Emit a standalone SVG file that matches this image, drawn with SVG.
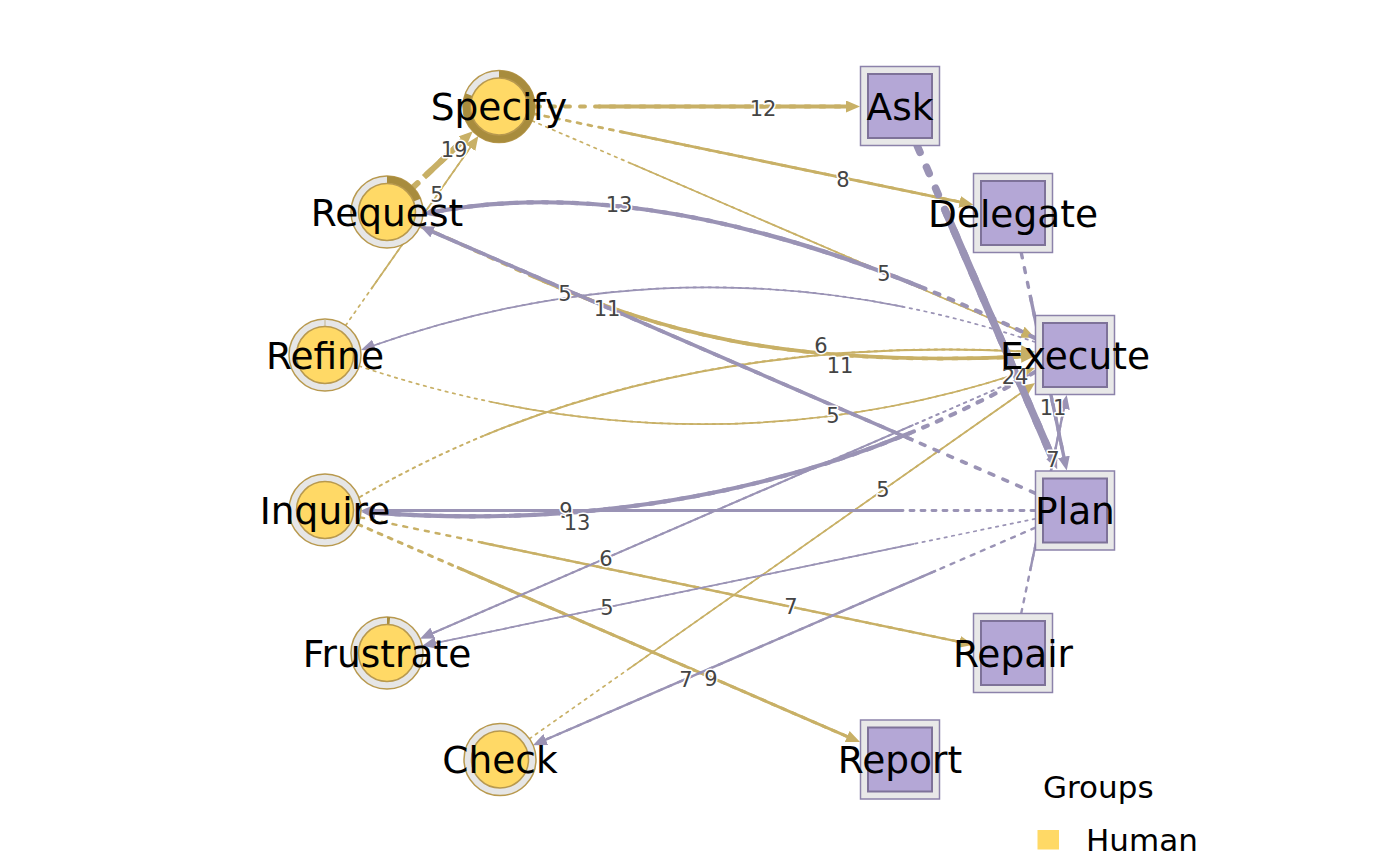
<svg xmlns="http://www.w3.org/2000/svg" width="1400" height="866" viewBox="0 0 1400 866">
<defs>
<style>
.g{stroke:#C8B066;fill:none;stroke-linecap:round}
.p{stroke:#9A93B5;fill:none;stroke-linecap:round}
.s{stroke-dasharray:0 20 80 0;stroke-linecap:butt}
.d1{stroke-dasharray:2.5 5}
.d2{stroke-dasharray:4 7}
.d3{stroke-dasharray:5 10}
.d4{stroke-dasharray:6 13}
.d5{stroke-dasharray:7 16}
.el{font-family:"DejaVu Sans","Liberation Sans",sans-serif;font-size:21px;fill:#444;text-anchor:middle;stroke:#fff;stroke-width:3px;paint-order:stroke fill;stroke-linejoin:round}
.nl{font-family:"DejaVu Sans","Liberation Sans",sans-serif;font-size:37.5px;fill:#000;text-anchor:middle}
.ring{fill:#E6E6E6;stroke:#B8994E;stroke-width:1.5}
.pie{fill:none;stroke:#A88C3D;stroke-width:7.5}
.inner{fill:#FFD966;stroke:#B8994E;stroke-width:1.5}
.sqo{fill:#E8E8E8;stroke:#8C82AA;stroke-width:1.5}
.sqi{fill:#B4A7D6;stroke:#7E7299;stroke-width:2}
.lg{font-family:"DejaVu Sans","Liberation Sans",sans-serif;font-size:31px;fill:#000}
</style>
<marker id="ag" markerUnits="userSpaceOnUse" markerWidth="14" markerHeight="12" viewBox="0 0 14 12" refX="6" refY="6" orient="auto"><path d="M0,0 L14,6 L0,12 z" fill="#C8B066"/></marker>
<marker id="ap" markerUnits="userSpaceOnUse" markerWidth="14" markerHeight="12" viewBox="0 0 14 12" refX="6" refY="6" orient="auto"><path d="M0,0 L14,6 L0,12 z" fill="#9A93B5"/></marker>
</defs>
<rect width="1400" height="866" fill="#fff"/>
<g id="connectors">
<!-- Specify -> Ask 12 -->
<path class="g d3" stroke-width="3.9" d="M535,106.5 L852,106.5"/>
<path class="g s" stroke-width="3.9" pathLength="100" marker-end="url(#ag)" d="M535,106.5 L852,106.5"/>
<!-- Specify -> Delegate 8 -->
<path class="g d2" stroke-width="2.8" d="M534,113.8 L965.5,203.1"/>
<path class="g s" stroke-width="2.8" pathLength="100" marker-end="url(#ag)" d="M534,113.8 L965.5,203.1"/>
<!-- Specify -> Execute 5 -->
<path class="g d1" stroke-width="1.7" d="M532,120.8 L1027.7,334.5"/>
<path class="g s" stroke-width="1.7" pathLength="100" marker-end="url(#ag)" d="M532,120.8 L1027.7,334.5"/>
<!-- Request -> Specify 19 -->
<path class="g d4" stroke-width="6" d="M413.2,187.3 L467,136.7"/>
<path class="g s" stroke-width="6" pathLength="100" marker-end="url(#ag)" d="M413.2,187.3 L467,136.7"/>
<!-- Refine -> Specify 5 -->
<path class="g d1" stroke-width="1.7" d="M345.6,325.5 L473.8,142.6"/>
<path class="g s" stroke-width="1.7" pathLength="100" marker-end="url(#ag)" d="M345.6,325.5 L473.8,142.6"/>
<!-- Request -> Execute 11 -->
<path class="g d3" stroke-width="3.7" d="M420,226 C590,300 700,372 1027,356.4"/>
<path class="g s" stroke-width="3.7" pathLength="100" marker-end="url(#ag)" d="M420,226 C590,300 700,372 1027,356.4"/>
<!-- Refine -> Execute 5 -->
<path class="g d1" stroke-width="1.7" d="M359,366 Q700,480 1027.4,370.5"/>
<path class="g s" stroke-width="1.7" pathLength="100" marker-end="url(#ag)" d="M359,366 Q700,480 1027.4,370.5"/>
<!-- Inquire -> Execute 6 -->
<path class="g d1" stroke-width="2" d="M360,497 C570,375 800,340 1027,351.6"/>
<path class="g s" stroke-width="2" pathLength="100" marker-end="url(#ag)" d="M360,497 C570,375 800,340 1027,351.6"/>
<!-- Inquire -> Repair 7 -->
<path class="g d2" stroke-width="2.4" d="M360.2,517.3 L965.5,643.1"/>
<path class="g s" stroke-width="2.4" pathLength="100" marker-end="url(#ag)" d="M360.2,517.3 L965.5,643.1"/>
<!-- Inquire -> Report 9 -->
<path class="g d2" stroke-width="3" d="M358,524.3 L852.7,738.9"/>
<path class="g s" stroke-width="3" pathLength="100" marker-end="url(#ag)" d="M358,524.3 L852.7,738.9"/>
<!-- Check -> Execute 5 -->
<path class="g d1" stroke-width="1.7" d="M529.4,738.8 L1028.5,387.7"/>
<path class="g s" stroke-width="1.7" pathLength="100" marker-end="url(#ag)" d="M529.4,738.8 L1028.5,387.7"/>
<!-- Ask -> Plan 24 -->
<path class="p d5" stroke-width="7.5" d="M917.3,146 L1054,462"/>
<path class="p s" stroke-width="7.5" pathLength="100" marker-end="url(#ap)" d="M917.3,146 L1054,462"/>
<!-- Execute -> Request 13 -->
<path class="p d3" stroke-width="4.2" d="M1035,338 Q680,165 430.9,212.5"/>
<path class="p s" stroke-width="4.2" pathLength="100" marker-end="url(#ap)" d="M1035,338 Q680,165 430.9,212.5"/>
<!-- Plan -> Request 11 -->
<path class="p d3" stroke-width="3.6" d="M1035,493.1 L427.3,229.5"/>
<path class="p s" stroke-width="3.6" pathLength="100" marker-end="url(#ap)" d="M1035,493.1 L427.3,229.5"/>
<!-- Execute -> Refine 5 -->
<path class="p d1" stroke-width="1.7" d="M1035,342 Q700,230 368.5,347.3"/>
<path class="p s" stroke-width="1.7" pathLength="100" marker-end="url(#ap)" d="M1035,342 Q700,230 368.5,347.3"/>
<!-- Plan -> Inquire 9 -->
<path class="p d2" stroke-width="2.9" d="M1035,510.5 L369,510.5"/>
<path class="p s" stroke-width="2.9" pathLength="100" marker-end="url(#ap)" d="M1035,510.5 L369,510.5"/>
<!-- Execute -> Inquire 13 -->
<path class="p d3" stroke-width="4.2" d="M1035,372 Q740,540 369,512.4"/>
<path class="p s" stroke-width="4.2" pathLength="100" marker-end="url(#ap)" d="M1035,372 Q740,540 369,512.4"/>
<!-- Execute -> Frustrate 6 -->
<path class="p d1" stroke-width="2" d="M1035,372.3 L427.3,635.5"/>
<path class="p s" stroke-width="2" pathLength="100" marker-end="url(#ap)" d="M1035,372.3 L427.3,635.5"/>
<!-- Plan -> Frustrate 5 -->
<path class="p d1" stroke-width="1.7" d="M1035,518.8 L430.1,644.1"/>
<path class="p s" stroke-width="1.7" pathLength="100" marker-end="url(#ap)" d="M1035,518.8 L430.1,644.1"/>
<!-- Plan -> Check 7 -->
<path class="p d2" stroke-width="2.4" d="M1035,527.8 L540.3,742"/>
<path class="p s" stroke-width="2.4" pathLength="100" marker-end="url(#ap)" d="M1035,527.8 L540.3,742"/>
<!-- Delegate -> Plan 11 -->
<path class="p d3" stroke-width="3.4" d="M1021.3,253 L1065.1,462.7"/>
<path class="p s" stroke-width="3.4" pathLength="100" marker-end="url(#ap)" d="M1021.3,253 L1065.1,462.7"/>
<!-- Repair -> Execute 7 -->
<path class="p d2" stroke-width="2.4" d="M1021.3,613 L1065.1,402.8"/>
<path class="p s" stroke-width="2.4" pathLength="100" marker-end="url(#ap)" d="M1021.3,613 L1065.1,402.8"/>
<g id="edge-labels">
<text class="el" x="763" y="115.5">12</text>
<text class="el" x="843" y="186.5">8</text>
<text class="el" x="884" y="280.5">5</text>
<text class="el" x="454" y="157">19</text>
<text class="el" x="437" y="201.5">5</text>
<text class="el" x="840" y="373">11</text>
<text class="el" x="833" y="423">5</text>
<text class="el" x="821" y="353">6</text>
<text class="el" x="791" y="614">7</text>
<text class="el" x="711" y="686">9</text>
<text class="el" x="883" y="497">5</text>
<text class="el" x="1015" y="383.5">24</text>
<text class="el" x="619" y="211.5">13</text>
<text class="el" x="607" y="316">11</text>
<text class="el" x="565" y="301">5</text>
<text class="el" x="566" y="518">9</text>
<text class="el" x="577" y="530">13</text>
<text class="el" x="606" y="566">6</text>
<text class="el" x="607" y="614.5">5</text>
<text class="el" x="686" y="686.5">7</text>
<text class="el" x="1053" y="415">11</text>
<text class="el" x="1053" y="467">7</text>
</g>
</g>
<g id="node-specify">
<circle class="ring" cx="499" cy="106.5" r="36"/>
<circle class="pie" cx="499" cy="106.5" r="32.25" pathLength="100" stroke-dasharray="81 100" transform="rotate(-90 499 106.5)"/>
<circle class="inner" cx="499" cy="106.5" r="28.5"/>
<text class="nl" x="499" y="120">Specify</text>
</g>
<g id="node-request">
<circle class="ring" cx="387" cy="212" r="36"/>
<circle class="pie" cx="387" cy="212" r="32.25" pathLength="100" stroke-dasharray="19 100" transform="rotate(-90 387 212)"/>
<circle class="inner" cx="387" cy="212" r="28.5"/>
<text class="nl" x="387" y="225.5">Request</text>
</g>
<g id="node-refine">
<circle class="ring" cx="325" cy="355" r="36"/>
<line x1="325" y1="319" x2="325" y2="326.5" stroke="#C2B48C" stroke-width="1"/>
<circle class="inner" cx="325" cy="355" r="28.5"/>
<text class="nl" x="325" y="368.5">Refine</text>
</g>
<g id="node-inquire">
<circle class="ring" cx="325" cy="510" r="36"/>
<circle class="inner" cx="325" cy="510" r="28.5"/>
<text class="nl" x="325" y="523.5">Inquire</text>
</g>
<g id="node-frustrate">
<circle class="ring" cx="387" cy="653" r="36"/>
<circle class="pie" cx="387" cy="653" r="32.25" pathLength="100" stroke-dasharray="1.4 100" transform="rotate(-90 387 653)"/>
<circle class="inner" cx="387" cy="653" r="28.5"/>
<text class="nl" x="387" y="666.5">Frustrate</text>
</g>
<g id="node-check">
<circle class="ring" cx="500" cy="759.5" r="36"/>
<circle class="inner" cx="500" cy="759.5" r="28.5"/>
<text class="nl" x="500" y="773">Check</text>
</g>
<g id="node-ask">
<rect class="sqo" x="860.5" y="66.5" width="79" height="79"/>
<rect class="sqi" x="868" y="74" width="64" height="64"/>
<text class="nl" x="900" y="119.5">Ask</text>
</g>
<g id="node-delegate">
<rect class="sqo" x="973.5" y="173.5" width="79" height="79"/>
<rect class="sqi" x="981" y="181" width="64" height="64"/>
<text class="nl" x="1013" y="226.5">Delegate</text>
</g>
<g id="node-execute">
<rect class="sqo" x="1035.5" y="315.5" width="79" height="79"/>
<rect class="sqi" x="1043" y="323" width="64" height="64"/>
<text class="nl" x="1075" y="368.5">Execute</text>
</g>
<g id="node-plan">
<rect class="sqo" x="1035.5" y="471" width="79" height="79"/>
<rect class="sqi" x="1043" y="478.5" width="64" height="64"/>
<text class="nl" x="1075" y="524">Plan</text>
</g>
<g id="node-repair">
<rect class="sqo" x="973.5" y="613.5" width="79" height="79"/>
<rect class="sqi" x="981" y="621" width="64" height="64"/>
<text class="nl" x="1013" y="666.5">Repair</text>
</g>
<g id="node-report">
<rect class="sqo" x="860.5" y="720" width="79" height="79"/>
<rect class="sqi" x="868" y="727.5" width="64" height="64"/>
<text class="nl" x="900" y="773">Report</text>
</g>
<g id="legend">
<text class="lg" x="1043" y="798">Groups</text>
<rect x="1037.5" y="830" width="21.5" height="19.5" fill="#FFD966"/>
<text class="lg" x="1086" y="851">Human</text>
</g>
</svg>
